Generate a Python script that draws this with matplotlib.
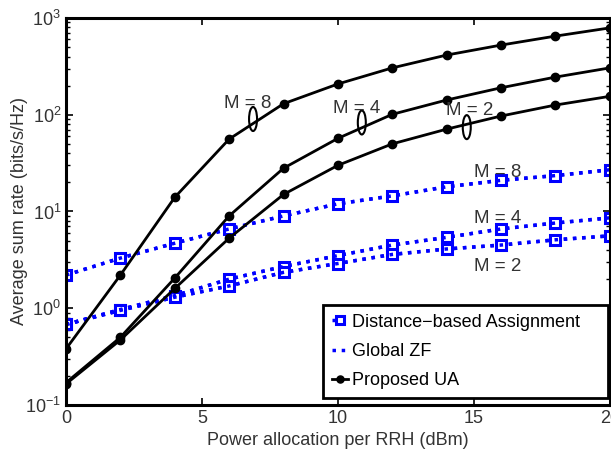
import matplotlib
matplotlib.use("Agg")
import matplotlib.pyplot as plt
from matplotlib.patches import Ellipse

plt.rcParams['font.family'] = ['Liberation Sans', 'DejaVu Sans']
plt.rcParams['mathtext.fontset'] = 'custom'
plt.rcParams['mathtext.rm'] = 'Liberation Sans'
plt.rcParams['mathtext.it'] = 'Liberation Sans:italic'

power = [0, 2, 4, 6, 8, 10, 12, 14, 16, 18, 20]

ua_m8 = [0.38, 2.2, 14, 56, 130, 208, 305, 414, 525, 650, 790]
ua_m4 = [0.17, 0.5, 2.05, 9.0, 28, 57, 101, 142, 190, 245, 305]
ua_m2 = [0.165, 0.47, 1.6, 5.3, 15, 30, 50, 71, 97, 126, 155]

dist_m8 = [2.2, 3.3, 4.7, 6.6, 9.0, 12, 14.5, 18, 21, 23.5, 27]
dist_m4 = [0.68, 0.97, 1.35, 2.0, 2.7, 3.5, 4.5, 5.4, 6.6, 7.6, 8.6]
dist_m2 = [0.68, 0.95, 1.3, 1.7, 2.35, 2.9, 3.6, 4.1, 4.5, 5.1, 5.6]

zf_m8 = dist_m8
zf_m4 = dist_m4
zf_m2 = dist_m2

xticks = [0, 5, 10, 15, 20]
xlabel = "Power allocation per RRH (dBm)"
ylabel = "Average sum rate (bits/s/Hz)"
legend_labels = ["Distance\u2212based Assignment", "Global ZF", "Proposed UA"]

fig = plt.figure(figsize=(6.11, 4.57), dpi=100)
ax = fig.add_axes([0.108, 0.1138, 0.89, 0.8468])

blue = (0, 0, 1)
txt = '#333333'

h_dist = None
for i, s in enumerate([dist_m8, dist_m4, dist_m2]):
    l, = ax.plot(power, s, linestyle=':', color=blue, linewidth=2.5,
                 marker='s', markersize=7, markerfacecolor='white',
                 markeredgecolor=blue, markeredgewidth=2.2)
    if i == 0:
        h_dist = l
h_zf = None
for i, s in enumerate([zf_m8, zf_m4, zf_m2]):
    l, = ax.plot(power, s, linestyle=':', color=blue, linewidth=2.5)
    if i == 0:
        h_zf = l
h_ua = None
for i, s in enumerate([ua_m8, ua_m4, ua_m2]):
    l, = ax.plot(power, s, linestyle='-', color='black', linewidth=2,
                 marker='o', markersize=6)
    if i == 0:
        h_ua = l

ax.set_yscale('log')
ax.set_xlim(0, 20)
ax.set_ylim(0.1, 1000)
ax.set_xticks(xticks)
ax.set_xticklabels([str(v) for v in xticks])
ax.tick_params(which='both', direction='in', top=True, right=True,
               labelsize=13, labelcolor=txt)
ax.tick_params(which='major', length=5, width=1.2)
ax.tick_params(which='minor', length=3, width=1)
for sp in ax.spines.values():
    sp.set_linewidth(2.2)

ax.set_xlabel(xlabel, fontsize=13, color=txt, labelpad=3.5)
ax.set_ylabel(ylabel, fontsize=13, color=txt, labelpad=-2)

# annotations
for label, (tx, ty), (ex, ey) in [
    ("M = 8", (0.335, 0.780), (0.344, 0.739)),
    ("M = 4", (0.535, 0.767), (0.544, 0.730)),
    ("M = 2", (0.743, 0.762), (0.737, 0.718)),
]:
    ax.text(tx, ty, label, transform=ax.transAxes, fontsize=13.5, color=txt,
            ha='center', va='center')
    ax.add_patch(Ellipse((ex, ey), 0.0147, 0.062, transform=ax.transAxes,
                         fill=False, edgecolor='black', linewidth=1.5))

for label, ty in [("M = 8", 0.602), ("M = 4", 0.481), ("M = 2", 0.357)]:
    ax.text(0.793, ty, label, transform=ax.transAxes, fontsize=13.5, color=txt,
            ha='center', va='center')

leg = ax.legend([h_dist, h_zf, h_ua], legend_labels, loc='lower left',
                bbox_to_anchor=(0.472, 0.018, 0.524, 0.2), mode='expand',
                fontsize=13, fancybox=False,
                framealpha=1, edgecolor='black', handlelength=0.9,
                handletextpad=0.2, borderpad=0.5, labelspacing=0.67,
                borderaxespad=0, markerscale=0.85)
leg.get_frame().set_linewidth(2)
for t in leg.get_texts():
    t.set_color('black')

fig.savefig("out.png", dpi=100)
